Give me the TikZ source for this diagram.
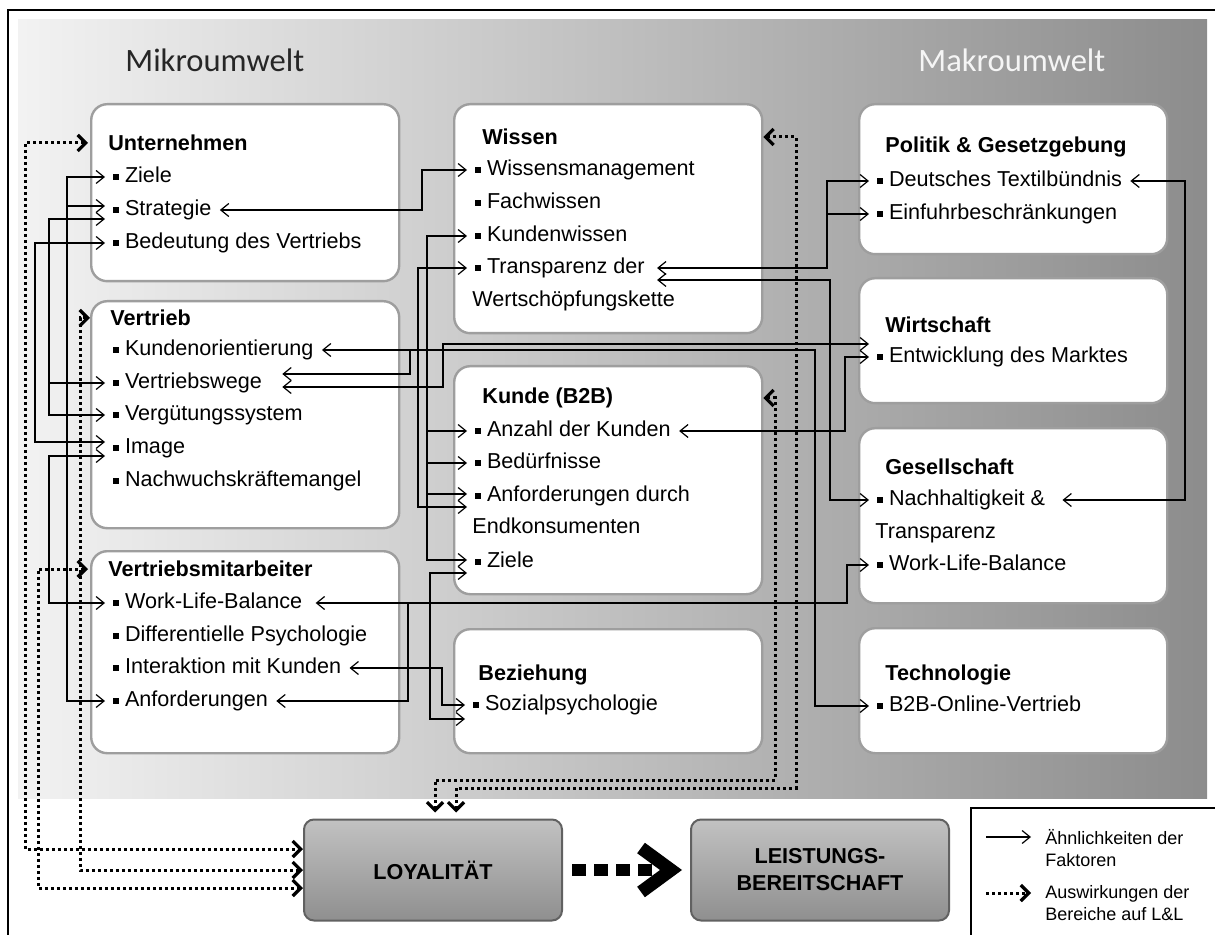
\documentclass[tikz,border=0pt]{standalone}
\usepackage{fontspec}
\setmainfont{Liberation Sans}
\newfontfamily\calibrifont{Carlito}
\usetikzlibrary{arrows.meta}

\newcommand{\sqb}{\rule[1.3pt]{3pt}{3pt}\hspace{2.8pt}}

\begin{document}
\begin{tikzpicture}[x=0.5pt, y=-0.5pt,
  >={Straight Barb[length=4pt,width=6.5pt]},
  box/.style={draw=black!38, line width=1.2pt, fill=white, rounded corners=8pt,
    anchor=north west, minimum width=154pt, inner sep=0},
  btn/.style={draw=black!62, line width=1pt, rounded corners=5pt, top color=black!24,
    bottom color=black!44, minimum width=129pt, minimum height=50.5pt, align=center,
    font=\fontsize{10.8}{13.5}\selectfont\bfseries},
  ttl/.style={anchor=west, inner xsep=10pt, inner ysep=0, font=\fontsize{10.8}{13}\selectfont\bfseries},
  itm/.style={anchor=west, inner xsep=4pt, inner ysep=0, text height=7.8pt, text depth=2.3pt,
    font=\fontsize{10.8}{13}\selectfont},
  legtxt/.style={anchor=west, inner xsep=7pt, inner ysep=0, align=left,
    font=\fontsize{9}{11}\selectfont},
  link/.style={line width=0.6pt},
  effect/.style={line width=1.5pt, dash pattern=on 1.5pt off 1.5pt,
    >={Straight Barb[length=4pt,width=8pt,line width=1.6pt]}},
  bigarr/.style={line width=6pt, dash pattern=on 7pt off 4pt, shorten <=4.5pt, shorten >=4pt,
    -{Straight Barb[length=15pt,width=22pt,line width=6.5pt]}}
]
\useasboundingbox (0,0) rectangle (1215,935);

% background
\shade[left color=black!5, right color=black!45] (18,20) rectangle (1207,798);
\draw[line width=1pt] (8,935) -- (8,10) -- (1215,10);
\node[anchor=west, inner sep=0, font=\calibrifont\fontsize{16.3}{19}\selectfont, black!85] (mikro) at (125,60) {Mikroumwelt};
\node[anchor=west, inner sep=0, font=\calibrifont\fontsize{16.3}{19}\selectfont, black!4] (makro) at (918,60) {Makroumwelt};

% boxes
\node[box, minimum height=88.5pt]  (unt) at (90,103) {};
\node[box, minimum height=113.5pt] (ver) at (90,300) {};
\node[box, minimum height=101pt]   (vma) at (90,550) {};
\node[box, minimum height=114.5pt] (wis) at (453,103) {};
\node[box, minimum height=114pt]   (kun) at (453,365) {};
\node[box, minimum height=62pt]    (bez) at (453,628) {};
\node[box, minimum height=75pt]    (pol) at (858,103) {};
\node[box, minimum height=62.5pt]  (wir) at (858,277) {};
\node[box, minimum height=87.5pt]  (ges) at (858,427) {};
\node[box, minimum height=62.5pt]  (tec) at (858,627) {};

% titles
\node[ttl] (t-unt) at (88,143) {Unternehmen};
\node[ttl] (t-ver) at (90,318) {Vertrieb};
\node[ttl] (t-vma) at (88,569) {Vertriebsmitarbeiter};
\node[ttl] (t-wis) at (462,137) {Wissen};
\node[ttl] (t-kun) at (462,398) {Kunde (B2B)};
\node[ttl] (t-bez) at (458,675) {Beziehung};
\node[ttl] (t-pol) at (865,147) {Politik \& Gesetzgebung};
\node[ttl] (t-wir) at (865,325) {Wirtschaft};
\node[ttl] (t-ges) at (865,467) {Gesellschaft};
\node[ttl] (t-tec) at (865,675) {Technologie};

% items
\node[itm] (u-ziele) at (105,177) {\sqb Ziele};
\node[itm] (u-strat) at (105,210) {\sqb Strategie};
\node[itm] (u-bed)   at (105,243) {\sqb Bedeutung des Vertriebs};
\node[itm] (v-kund)  at (105,350) {\sqb Kundenorientierung};
\node[itm] (v-wege)  at (105,383) {\sqb Vertriebswege};
\node[itm] (v-verg)  at (105,415) {\sqb Vergütungssystem};
\node[itm] (v-image) at (105,448) {\sqb Image};
\node[itm] (v-nach)  at (105,481) {\sqb Nachwuchskräftemangel};
\node[itm] (m-wlb)   at (105,603) {\sqb Work-Life-Balance};
\node[itm] (m-diff)  at (105,636) {\sqb Differentielle Psychologie};
\node[itm] (m-inter) at (105,668) {\sqb Interaktion mit Kunden};
\node[itm] (m-anf)   at (105,701) {\sqb Anforderungen};
\node[itm] (w-wm)    at (467,170) {\sqb Wissensmanagement};
\node[itm] (w-fach)  at (467,203) {\sqb Fachwissen};
\node[itm] (w-kw)    at (467,236) {\sqb Kundenwissen};
\node[itm] (w-tr)    at (467,268) {\sqb Transparenz der};
\node[itm] (w-wsk)   at (464,301) {Wertschöpfungskette};
\node[itm] (k-anz)   at (467,431) {\sqb Anzahl der Kunden};
\node[itm] (k-bed)   at (467,463) {\sqb Bedürfnisse};
\node[itm] (k-anf)   at (467,496) {\sqb Anforderungen durch};
\node[itm] (k-end)   at (464,528) {Endkonsumenten};
\node[itm] (k-ziele) at (467,562) {\sqb Ziele};
\node[itm] (b-soz)   at (465,705) {\sqb Sozialpsychologie};
\node[itm] (p-dt)    at (869,181) {\sqb Deutsches Textilbündnis};
\node[itm] (p-ein)   at (869,214) {\sqb Einfuhrbeschränkungen};
\node[itm] (wi-markt) at (869,357) {\sqb Entwicklung des Marktes};
\node[itm] (g-nach)  at (869,500) {\sqb Nachhaltigkeit \&};
\node[itm] (g-tr)    at (867,533) {Transparenz};
\node[itm] (g-wlb)   at (869,565) {\sqb Work-Life-Balance};
\node[itm] (t-b2b)   at (869,706) {\sqb B2B-Online-Vertrieb};

% bottom
\node[btn] (loy)   at (433,870) {LOYALITÄT};
\node[btn] (leist) at (820,870) {LEISTUNGS-\\BEREITSCHAFT};
\draw[bigarr] (loy) -- (leist);

% lanes
\coordinate (laneC) at (35,0);
\coordinate (laneA) at (49,0);
\coordinate (laneD) at (67,0);
\coordinate (laneL2) at (408,0);
\coordinate (laneE2) at (410,0);
\coordinate (laneI) at (418,0);
\coordinate (laneS) at (422,0);
\coordinate (laneJ) at (427,0);
\coordinate (laneK) at (430,0);
\coordinate (laneH) at (442,0);
\coordinate (laneF) at (443,0);
\coordinate (laneE) at (815,0);
\coordinate (laneM) at (827,0);
\coordinate (laneN) at (830,0);
\coordinate (laneG) at (845,0);
\coordinate (laneL) at (847,0);
\coordinate (laneO) at (1185,0);
\coordinate (laneX1) at (25,0);
\coordinate (laneX3) at (38,0);
\coordinate (laneX2) at (80,0);
\coordinate (bendK) at (775,780);
\coordinate (bendW) at (796,788);

% shifted ends
\coordinate (strat-hi) at ([yshift=2pt]u-strat.west);
\coordinate (strat-lo) at ([yshift=-4.5pt]u-strat.west);
\coordinate (img-hi) at ([yshift=3pt]v-image.west);
\coordinate (img-lo) at ([yshift=-4pt]v-image.west);
\coordinate (wege-hi) at ([xshift=6pt,yshift=4.5pt]v-wege.east);
\coordinate (wege-lo) at ([xshift=6pt,yshift=-2pt]v-wege.east);
\coordinate (tr-hi) at ([xshift=2pt]w-tr.east);
\coordinate (tr-lo) at ([xshift=2pt,yshift=-6pt]w-tr.east);
\coordinate (anf-hi) at ([yshift=1pt]k-anf.west);
\coordinate (anf-lo) at ([yshift=-5.5pt]k-anf.west);
\coordinate (kz-hi) at ([yshift=1pt]k-ziele.west);
\coordinate (kz-lo) at ([yshift=-5.5pt]k-ziele.west);
\coordinate (soz-lo) at ([yshift=-7pt]b-soz.west);
\coordinate (mkt-hi) at ([yshift=6.5pt]wi-markt.west);
\coordinate (wlb-r) at ([xshift=2.5pt]m-wlb.east);
\coordinate (nach-r) at ([xshift=4.5pt]g-nach.east);
\coordinate (loy-a) at ([yshift=10.5pt]loy.west);
\coordinate (loy-c) at ([yshift=-9pt]loy.west);
\coordinate (loy-n1) at ([xshift=1pt]loy.north);
\coordinate (loy-n2) at ([xshift=11.5pt]loy.north);

% similarities of factors
\draw[link,<->] (u-strat.east) -| (laneS |- w-wm) -- (w-wm.west);
\draw[link,<->] (strat-lo) -| (laneA |- v-verg) -- (v-verg.west);
\draw[link,->] (laneA |- v-wege) -- (v-wege.west);
\draw[link,<->] (u-bed.west) -| (laneC |- img-hi) -- (img-hi);
\draw[link,<->] (img-lo) -| (laneA |- m-wlb) -- (m-wlb.west);
\draw[link,<->] (u-ziele.west) -| (laneD |- m-anf) -- (m-anf.west);
\draw[link,->] (laneD |- strat-hi) -- (strat-hi);
\draw[link,<->] (v-kund.east) -| (laneE |- t-b2b) -- (t-b2b.west);
\draw[link,->] (laneE2 |- v-kund) |- (wege-hi);
\draw[link,<->] (wege-lo) -| (laneF |- mkt-hi) -- (mkt-hi);
\draw[link,<->] (k-anz.east) -| (laneG |- wi-markt) -- (wi-markt.west);
\draw[link,<->] (w-kw.west) -| (laneJ |- kz-hi) -- (kz-hi);
\draw[link,->] (laneJ |- k-anz) -- (k-anz.west);
\draw[link,->] (laneJ |- k-bed) -- (k-bed.west);
\draw[link,->] (laneJ |- anf-hi) -- (anf-hi);
\draw[link,<->] (w-tr.west) -| (laneI |- anf-lo) -- (anf-lo);
\draw[link,<->] (kz-lo) -| (laneK |- soz-lo) -- (soz-lo);
\draw[link,<->] (m-inter.east) -| (laneH |- b-soz) -- (b-soz.west);
\draw[link,<->] (wlb-r) -| (laneL |- g-wlb) -- (g-wlb.west);
\draw[link,->] (laneL2 |- wlb-r) |- (m-anf.east);
\draw[link,<->] (tr-hi) -| (laneM |- p-dt) -- (p-dt.west);
\draw[link,->] (laneM |- p-ein) -- (p-ein.west);
\draw[link,<->] (tr-lo) -| (laneN |- g-nach) -- (g-nach.west);
\draw[link,<->] (p-dt.east) -| (laneO |- nach-r) -- (nach-r);

% effects on L&L
\draw[effect,<->] (t-unt.west) -| (laneX1 |- loy-a) -- (loy-a);
\draw[effect,<->] (t-ver.west) -| (laneX2 |- loy) -- (loy.west);
\draw[effect,<->] (t-vma.west) -| (laneX3 |- loy-c) -- (loy-c);
\draw[effect,<->,shorten >=3pt] (kun.east |- t-kun) -| (bendK) -| (loy-n1);
\draw[effect,<->,shorten >=3pt] (wis.east |- t-wis) -| (bendW) -| (loy-n2);

% legend
\draw[line width=0.8pt] (971,935) -- (971,808) -- (1215,808);
\node[legtxt] (lg-sim) at (1031,848) {Ähnlichkeiten der\\Faktoren};
\node[legtxt] (lg-eff) at (1031,903) {Auswirkungen der\\Bereiche auf L\&L};
\coordinate (lg-sim-s) at (986,837);
\coordinate (lg-eff-s) at (986,893);
\draw[link,->] (lg-sim-s) -- (lg-sim-s -| lg-sim.west);
\draw[effect,->] (lg-eff-s) -- (lg-eff-s -| lg-eff.west);
\end{tikzpicture}
\end{document}
